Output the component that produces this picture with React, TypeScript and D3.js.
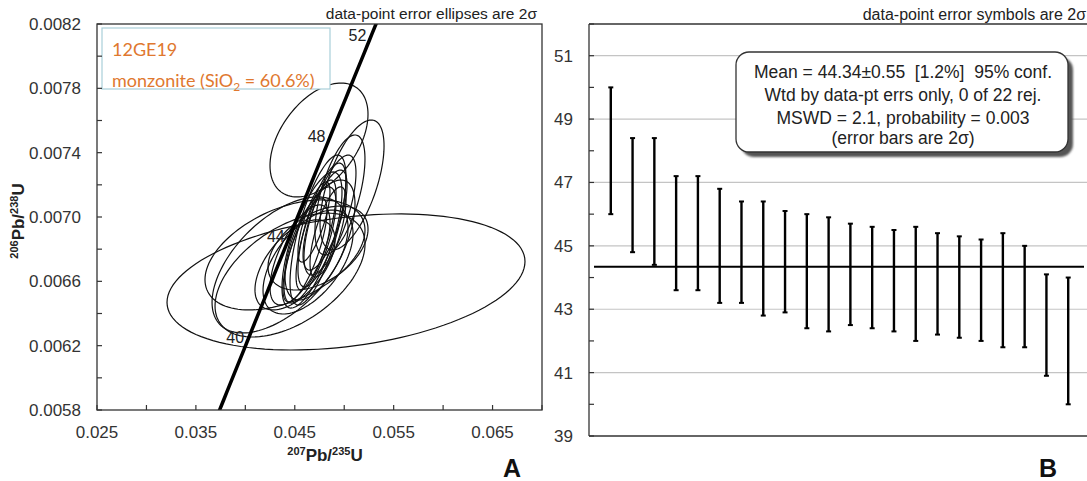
import React from "react";
import * as d3 from "d3";

// ---------- Panel A data ----------
const xTicksA = [0.025, 0.035, 0.045, 0.055, 0.065];
const xTickLabelsA = ["0.025", "0.035", "0.045", "0.055", "0.065"];
const yTicksA = [0.0058, 0.0062, 0.0066, 0.007, 0.0074, 0.0078, 0.0082];
const yTickLabelsA = ["0.0058", "0.0062", "0.0066", "0.0070", "0.0074", "0.0078", "0.0082"];
const concordiaAges = [40, 44, 48, 52];
// ellipse centres (207/235, 206/238), 2-sigma half-widths and correlation
const ellX = [0.05018, 0.04745, 0.05079, 0.04957, 0.04401, 0.04452, 0.04351, 0.04735, 0.04775, 0.04674, 0.04715, 0.04806, 0.04654, 0.04755, 0.04603, 0.04836, 0.04694, 0.04553, 0.04856, 0.04502, 0.04634, 0.04735];
const ellY = [0.006596, 0.007479, 0.007199, 0.007137, 0.006764, 0.006639, 0.006702, 0.006919, 0.00695, 0.006857, 0.006888, 0.006981, 0.006826, 0.006857, 0.006795, 0.006907, 0.006969, 0.006764, 0.007012, 0.006702, 0.00672, 0.006807];
const ellSX = [0.0181, 0.004955, 0.003236, 0.002528, 0.00809, 0.007584, 0.006876, 0.002831, 0.002427, 0.003034, 0.002022, 0.002225, 0.002629, 0.003539, 0.002225, 0.00182, 0.001618, 0.003034, 0.002629, 0.004045, 0.004551, 0.005056];
const ellSY = [0.000423, 0.000354, 0.000404, 0.000373, 0.000342, 0.000385, 0.000423, 0.000466, 0.000385, 0.000423, 0.000342, 0.000311, 0.000361, 0.000373, 0.000323, 0.00028, 0.000249, 0.000311, 0.000373, 0.00028, 0.000323, 0.000261];
const ellRho = [0.3, 0.45, 0.6, 0.6, 0.45, 0.5, 0.55, 0.7, 0.72, 0.7, 0.75, 0.7, 0.72, 0.6, 0.75, 0.7, 0.75, 0.65, 0.7, 0.55, 0.55, 0.45];

// ---------- Panel B data ----------
const barTop = [50.0, 48.4, 48.4, 47.2, 47.2, 46.8, 46.4, 46.4, 46.1, 46.0, 45.9, 45.7, 45.6, 45.5, 45.6, 45.4, 45.3, 45.2, 45.4, 45.0, 44.1, 44.0];
const barBottom = [46.0, 44.8, 44.4, 43.6, 43.6, 43.2, 43.2, 42.8, 42.9, 42.4, 42.3, 42.5, 42.4, 42.3, 42.0, 42.2, 42.1, 42.0, 41.8, 41.8, 40.9, 40.0];
const meanAge = 44.34;
const yTicksB = [39, 41, 43, 45, 47, 49, 51];
const boxLines = [
  "Mean = 44.34\u00b10.55  [1.2%]  95% conf.",
  "Wtd by data-pt errs only, 0 of 22 rej.",
  "MSWD = 2.1, probability = 0.003",
  "(error bars are 2\u03c3)",
];

const L238 = 1.55125e-10;
const L235 = 9.8485e-10;

export default function App() {
  const font = "'Liberation Sans', Arial, sans-serif";
  // Panel A scales
  const xA = d3.scaleLinear().domain([0.025, 0.07]).range([97, 542]);
  const yA = d3.scaleLinear().domain([0.0058, 0.0082]).range([410, 24]);
  const xMinorA = d3.range(0.025, 0.0701, 0.005);
  const yMinorA = d3.range(0.0058, 0.00821, 0.0002);

  const conc = (t: number) => [Math.exp(L235 * t * 1e6) - 1, Math.exp(L238 * t * 1e6) - 1];
  const concPts = d3.range(36, 55, 0.25).map(conc);
  const concLine = d3.line<number[]>().x((d) => xA(d[0])).y((d) => yA(d[1]));

  const ellPath = (i: number) => {
    const pts = d3.range(0, 2 * Math.PI + 0.001, Math.PI / 60).map((th) => {
      const r = ellRho[i];
      const dx = ellSX[i] * Math.cos(th);
      const dy = ellSY[i] * (r * Math.cos(th) + Math.sqrt(1 - r * r) * Math.sin(th));
      return [xA(ellX[i] + dx), yA(ellY[i] + dy)] as [number, number];
    });
    return d3.line()(pts) + "Z";
  };

  // Panel B scales
  const xB = d3.scaleLinear().domain([0, 23]).range([589, 1090]);
  const yB = d3.scaleLinear().domain([39, 52]).range([436, 24]);
  const yMinorB = d3.range(39, 52.01, 1);
  const boxBase = [78, 101, 124, 144];

  return (
    <svg width={1087} height={481} style={{ position: "absolute", left: 0, top: 0, background: "#fff" }} fontFamily={font}>
      <defs>
        <clipPath id="clipA">
          <rect x={97} y={24} width={445} height={386} />
        </clipPath>
        <filter id="blur" x="-10%" y="-10%" width="120%" height="130%">
          <feGaussianBlur stdDeviation="1.2" />
        </filter>
      </defs>
      <rect x={0} y={0} width={1087} height={481} fill="#fff" />

      {/* ===== Panel A ===== */}
      <text x={537} y={19} textAnchor="end" fontSize={15.5} fill="#222">
        data-point error ellipses are 2{"\u03c3"}
      </text>
      <g clipPath="url(#clipA)">
        {ellX.map((_, i) => (
          <path key={i} d={ellPath(i)} fill="none" stroke="#111" strokeWidth={1.2} />
        ))}
        <path d={concLine(concPts) || ""} fill="none" stroke="#000" strokeWidth={3.5} />
      </g>
      {concordiaAges.map((t) => {
        const p = conc(t);
        return (
          <text key={t} x={xA(p[0]) - 3} y={yA(p[1]) + 1} textAnchor="end" fontSize={16} fill="#222">
            {t}
          </text>
        );
      })}
      {/* legend box */}
      <rect x={102} y={28} width={228} height={61} fill="#fff" stroke="#a9cfd9" strokeWidth={1.2} />
      <text x={112} y={56} fontSize={18} fill="#e0782f" fontFamily="Lato, sans-serif">12GE19</text>
      <text x={112} y={87} fontSize={18} fill="#e0782f" fontFamily="Lato, sans-serif">
        monzonite (SiO<tspan fontSize={12} dy={4}>2</tspan><tspan dy={-4}> = 60.6%)</tspan>
      </text>
      {/* frame */}
      <rect x={97} y={24} width={445} height={386} fill="none" stroke="#333" strokeWidth={1.3} />
      {xMinorA.map((v, i) => (
        <line key={"xm" + i} x1={xA(v)} x2={xA(v)} y1={410} y2={405} stroke="#333" strokeWidth={1.2} />
      ))}
      {yMinorA.map((v, i) => (
        <line key={"ym" + i} x1={97} x2={102} y1={yA(v)} y2={yA(v)} stroke="#333" strokeWidth={1.2} />
      ))}
      {xTicksA.map((v, i) => (
        <text key={"xl" + i} x={xA(v)} y={438} textAnchor="middle" fontSize={17} fill="#333">
          {xTickLabelsA[i]}
        </text>
      ))}
      {yTicksA.map((v, i) => (
        <text key={"yl" + i} x={81} y={yA(v) + 6} textAnchor="end" fontSize={17} fill="#333">
          {yTickLabelsA[i]}
        </text>
      ))}
      <text x={325} y={461} textAnchor="middle" fontSize={17} fontWeight="bold" fill="#222">
        <tspan fontSize={11} dy={-6}>207</tspan>
        <tspan dy={6}>Pb/</tspan>
        <tspan fontSize={11} dy={-6}>235</tspan>
        <tspan dy={6}>U</tspan>
      </text>
      <text transform="translate(24,221) rotate(-90)" textAnchor="middle" fontSize={17} fontWeight="bold" fill="#222">
        <tspan fontSize={11} dy={-6}>206</tspan>
        <tspan dy={6}>Pb/</tspan>
        <tspan fontSize={11} dy={-6}>238</tspan>
        <tspan dy={6}>U</tspan>
      </text>
      <text x={512} y={477} textAnchor="middle" fontSize={25} fontWeight="bold" fill="#111">A</text>

      {/* ===== Panel B ===== */}
      <text x={1086} y={20} textAnchor="end" fontSize={16} fill="#222">
        data-point error symbols are 2{"\u03c3"}
      </text>
      {yTicksB.slice(1).map((v) => (
        <line key={"g" + v} x1={589} x2={1087} y1={yB(v)} y2={yB(v)} stroke="#c4c4c4" strokeWidth={1.2} />
      ))}
      <line x1={589} x2={1100} y1={24} y2={24} stroke="#333" strokeWidth={1.3} />
      <line x1={589} x2={589} y1={24} y2={436} stroke="#333" strokeWidth={1.3} />
      <line x1={589} x2={1100} y1={436} y2={436} stroke="#333" strokeWidth={1.3} />
      {yMinorB.map((v) => (
        <line key={"bm" + v} x1={589} x2={594} y1={yB(v)} y2={yB(v)} stroke="#333" strokeWidth={1.2} />
      ))}
      {yTicksB.map((v) => (
        <text key={"bl" + v} x={573} y={yB(v) + 6} textAnchor="end" fontSize={17} fill="#333">
          {v}
        </text>
      ))}
      {barTop.map((t, i) => {
        const x = xB(i + 1);
        return (
          <g key={"b" + i} stroke="#000">
            <line x1={x} x2={x} y1={yB(t)} y2={yB(barBottom[i])} strokeWidth={2.4} />
            <line x1={x - 2.5} x2={x + 2.5} y1={yB(t)} y2={yB(t)} strokeWidth={2} />
            <line x1={x - 2.5} x2={x + 2.5} y1={yB(barBottom[i])} y2={yB(barBottom[i])} strokeWidth={2} />
          </g>
        );
      })}
      <line x1={594} x2={1084} y1={yB(meanAge)} y2={yB(meanAge)} stroke="#000" strokeWidth={2.2} />
      {/* stats box */}
      <rect x={741} y={57} width={332} height={100} rx={13} fill="#555" filter="url(#blur)" />
      <rect x={736} y={52} width={332} height={100} rx={13} fill="#fff" stroke="#333" strokeWidth={1.3} />
      {boxLines.map((s, i) => (
        <text key={"bx" + i} x={903} y={boxBase[i]} textAnchor="middle" fontSize={17.5} fill="#222" style={{ whiteSpace: "pre" }} xmlSpace="preserve">
          {s}
        </text>
      ))}
      <text x={1048} y={477} textAnchor="middle" fontSize={25} fontWeight="bold" fill="#111">B</text>
    </svg>
  );
}
